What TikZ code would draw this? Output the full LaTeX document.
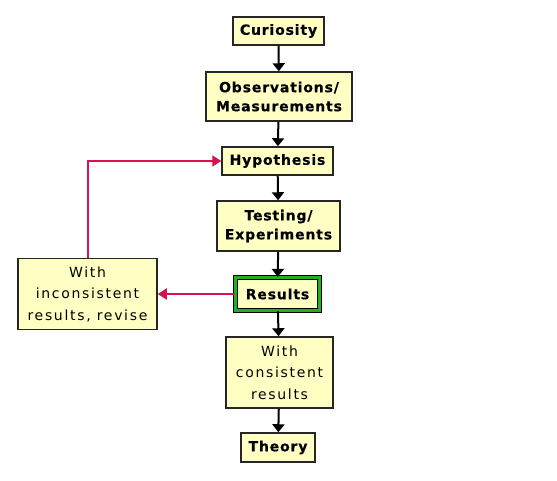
\documentclass[tikz,border=0pt]{standalone}
\usepackage{fontspec}
\setmainfont{DejaVu Sans}
\newfontfamily\boxbold[LetterSpace=6,FakeBold=0.4]{DejaVu Sans Bold}
\newfontfamily\boxplain[LetterSpace=12]{DejaVu Sans}
\usetikzlibrary{arrows.meta}
\definecolor{boxfill}{HTML}{FFFFC4}
\definecolor{redline}{HTML}{D4144E}
\definecolor{greenline}{HTML}{22B022}
\begin{document}
\begin{tikzpicture}[x=1pt,y=-1pt,
  box/.style={draw=black!85,line width=1.5pt,fill=boxfill,inner sep=0pt,align=center},
  boldtxt/.style={font=\boxbold\fontsize{14}{19}\selectfont},
  plaintxt/.style={font=\boxplain\fontsize{14}{21.5}\selectfont},
  arr/.style={-{Triangle[width=12pt,length=8pt]},line width=2pt,black},
  redarr/.style={-{Triangle[width=11pt,length=9pt]},line width=2pt,redline}]
\useasboundingbox (0,0) rectangle (557,480);
\node[box,boldtxt,minimum width=91pt,minimum height=28pt] (cur) at (278.5,31) {Curiosity};
\node[box,boldtxt,minimum width=146pt,minimum height=49pt] (obs) at (279,96.5) {Observations/\\Measurements};
\node[box,boldtxt,minimum width=111pt,minimum height=28pt] (hyp) at (277.5,161) {Hypothesis};
\node[box,boldtxt,minimum width=123pt,minimum height=50pt] (test) at (278.5,226) {Testing/\\Experiments};
\node[box,boldtxt,draw=black,line width=1.2pt,double=greenline,double distance=2.2pt,minimum width=84pt,minimum height=33pt] (res) at (277.5,294) {Results};
\node[box,plaintxt,minimum width=139pt,minimum height=71pt] (inc) at (87.5,294) {With\\inconsistent\\results, revise};
\node[box,plaintxt,minimum width=107pt,minimum height=71pt] (con) at (279.5,372.5) {With\\consistent\\results};
\node[box,boldtxt,minimum width=74pt,minimum height=29pt] (the) at (278,447.5) {Theory};
\draw[arr] (cur) -- (obs);
\draw[arr] (obs) -- (hyp);
\draw[arr] (hyp) -- (test);
\draw[arr] (test) -- (res);
\draw[arr] (res) -- (con);
\draw[arr] (con) -- (the);
\draw[redarr] (res.west) -- (inc.east);
\draw[redarr] (inc.north) -- (inc.north |- hyp.west) -- (hyp.west);
\end{tikzpicture}
\end{document}
